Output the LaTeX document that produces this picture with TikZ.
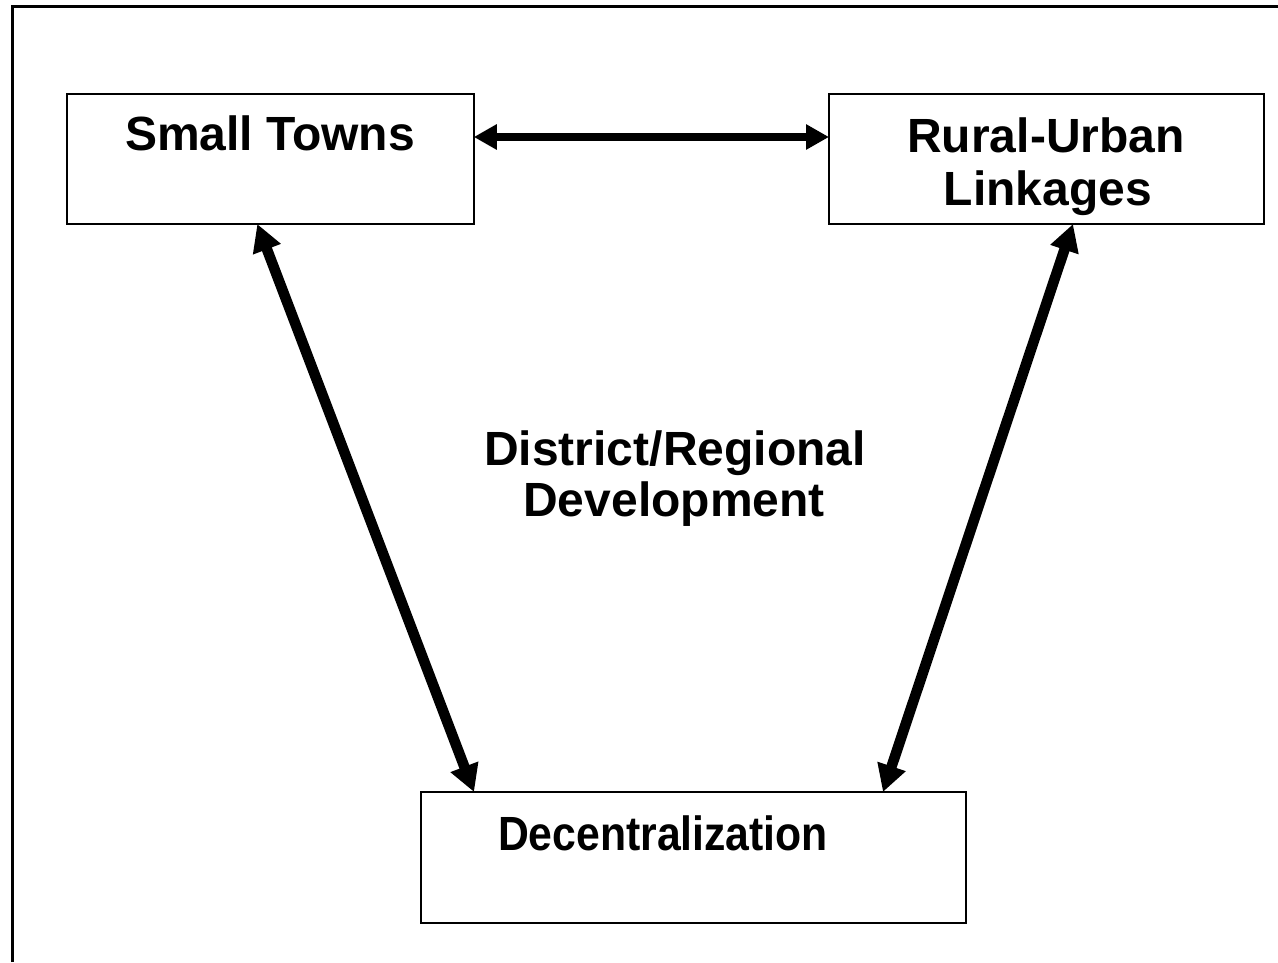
\documentclass[tikz,border=0pt]{standalone}
\usepackage{fontspec}
\setmainfont{Liberation Sans}
\usetikzlibrary{arrows.meta}

\begin{document}
\begin{tikzpicture}[x=1pt,y=-1pt,
  box/.style={draw=black,line width=2.6pt,inner sep=0pt,outer sep=0pt,fill=white},
  lbl/.style={font=\fontsize{48}{52}\selectfont\bfseries,anchor=base,inner sep=0pt},
  link/.style={line width=8pt,{Triangle[length=23pt,width=24pt]}-{Triangle[length=23pt,width=24pt]}},
  slant/.style={line width=10.5pt,{Triangle[length=27pt,width=28pt]}-{Triangle[length=27pt,width=28pt]}}]
  \useasboundingbox (0,0) rectangle (1278,962);
  \fill[white] (0,0) rectangle (1278,962);

  % outer frame (runs off the right and bottom edges)
  \draw[line width=3pt] (12.5,962) -- (12.5,6) -- (1278,6);

  % boxes
  \node[box,minimum width=407pt,minimum height=130pt] (st) at (270.3,159) {};
  \node[box,minimum width=435pt,minimum height=130pt] (ru) at (1046.5,159) {};
  \node[box,minimum width=545pt,minimum height=131pt] (dc) at (693.5,857.5) {};

  % box texts
  \node[lbl] (stt) at (270,150) {Small Towns};
  \node[lbl] (rut1) at (1046,152) {Rural-Urban};
  \node[lbl] (rut2) at (1048,205) {Linkages};
  \node[lbl,xscale=0.89] (dct) at (663,850) {Decentralization};

  % centre text
  \node[lbl] (cen1) at (675,465) {District/Regional};
  \node[lbl] (cen2) at (674,516) {Development};

  % connectors
  \draw[link] ([yshift=22pt]st.east) -- ([yshift=22pt]ru.west);
  \draw[slant] ([xshift=-13pt]st.south) -- ([xshift=-219.5pt]dc.north);
  \draw[slant] ([xshift=26.5pt]ru.south) -- ([xshift=189.5pt]dc.north);
\end{tikzpicture}
\end{document}
